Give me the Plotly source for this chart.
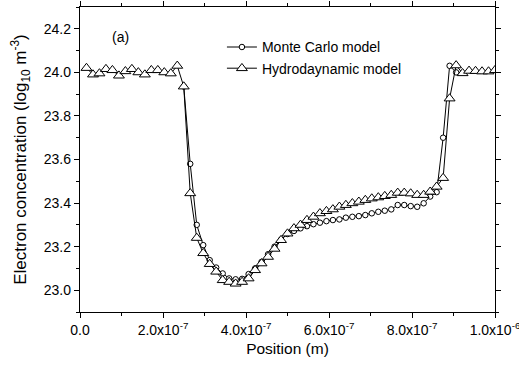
import plotly.graph_objects as go

# Positions along the device, in units of 1e-7 m
hd_pos_e7 = [0.156, 0.313, 0.469, 0.625, 0.781, 0.938, 1.094, 1.250, 1.406, 1.563,
             1.719, 1.875, 2.031, 2.188, 2.344, 2.500, 2.656, 2.813, 2.969, 3.125,
             3.281, 3.438, 3.594, 3.750, 3.906, 4.063, 4.219, 4.375, 4.531, 4.688,
             4.844, 5.000, 5.156, 5.313, 5.469, 5.625, 5.781, 5.938, 6.094, 6.250,
             6.406, 6.563, 6.719, 6.875, 7.031, 7.188, 7.344, 7.500, 7.656, 7.813,
             7.969, 8.125, 8.281, 8.438, 8.594, 8.750, 8.906, 9.063, 9.219, 9.375,
             9.531, 9.688, 9.844, 10.000]
# Hydrodynamic model, log10 of electron concentration (m^-3)
hd_logn = [24.02, 23.99, 23.995, 24.015, 24.01, 23.985, 24.005, 24.015, 24.0, 23.99,
           24.01, 24.01, 24.0, 23.995, 24.03, 23.935, 23.445, 23.24, 23.17, 23.12,
           23.085, 23.046, 23.038, 23.03, 23.038, 23.054, 23.092, 23.123, 23.153, 23.19,
           23.23, 23.26, 23.284, 23.30, 23.322, 23.337, 23.353, 23.363, 23.371, 23.383,
           23.391, 23.399, 23.406, 23.414, 23.421, 23.426, 23.432, 23.437, 23.447, 23.447,
           23.444, 23.437, 23.437, 23.452, 23.475, 23.515, 23.88, 24.032, 23.996, 24.007,
           24.006, 24.004, 24.004, 24.01]

mc_pos_e7 = [2.500, 2.656, 2.813, 2.969, 3.125, 3.281, 3.438, 3.594, 3.750, 3.906,
             4.063, 4.219, 4.375, 4.531, 4.688, 4.844, 5.000, 5.156, 5.313, 5.469,
             5.625, 5.781, 5.938, 6.094, 6.250, 6.406, 6.563, 6.719, 6.875, 7.031,
             7.188, 7.344, 7.500, 7.656, 7.813, 7.969, 8.125, 8.281, 8.438, 8.594,
             8.750, 8.906, 9.063]
# Monte Carlo model, log10 of electron concentration (m^-3)
mc_logn = [23.935, 23.58, 23.30, 23.207, 23.138, 23.104, 23.077, 23.054, 23.05, 23.052,
           23.074, 23.10, 23.13, 23.165, 23.20, 23.232, 23.258, 23.272, 23.284, 23.294,
           23.303, 23.31, 23.317, 23.322, 23.325, 23.333, 23.337, 23.34, 23.345, 23.353,
           23.36, 23.365, 23.371, 23.391, 23.391, 23.386, 23.383, 23.399, 23.43, 23.45,
           23.70, 24.03, 24.0]

x_tick_vals = [0, 2e-7, 4e-7, 6e-7, 8e-7, 1e-6]
x_tick_text = ["0.0", "2.0x10<sup>-7</sup>", "4.0x10<sup>-7</sup>",
               "6.0x10<sup>-7</sup>", "8.0x10<sup>-7</sup>", "1.0x10<sup>-6</sup>"]

E7 = 1e-7
FONT = "Arial, Liberation Sans, sans-serif"

fig = go.Figure()
fig.add_trace(go.Scatter(
    x=[p * E7 for p in mc_pos_e7], y=mc_logn, mode="lines+markers",
    name="Monte Carlo model",
    line=dict(color="black", width=1),
    marker=dict(symbol="circle", size=5.5, color="white",
                line=dict(color="black", width=1)),
))
fig.add_trace(go.Scatter(
    x=[p * E7 for p in hd_pos_e7], y=hd_logn, mode="lines+markers",
    name="Hydrodaynamic model",
    line=dict(color="black", width=1),
    marker=dict(symbol="triangle-up", size=9.5, color="white",
                line=dict(color="black", width=1)),
))

axis_common = dict(
    showline=True, linecolor="black", linewidth=1.3, mirror="ticks",
    ticks="outside", ticklen=5, tickwidth=1, tickcolor="black",
    showgrid=False, zeroline=False,
    tickfont=dict(family=FONT, size=14, color="black"),
)

fig.update_xaxes(
    range=[0, 1e-6], tickmode="array", tickvals=x_tick_vals, ticktext=x_tick_text,
    minor=dict(tickmode="linear", tick0=0, dtick=1e-7, ticks="outside",
               ticklen=3, tickcolor="black"),
    title=dict(text="Position (m)", font=dict(family=FONT, size=15.5, color="black"),
               standoff=6),
    ticklabeloverflow="allow",
    automargin=False, **axis_common,
)
fig.update_yaxes(
    range=[22.9, 24.3], tickmode="linear", tick0=23.0, dtick=0.2, tickformat=".1f",
    minor=dict(tickmode="linear", tick0=23.0, dtick=0.1, ticks="outside",
               ticklen=3, tickcolor="black"),
    title=dict(text="Electron concentration (log<sub>10</sub> m<sup>-3</sup>)",
               font=dict(family=FONT, size=17, color="black"), standoff=12),
    automargin=False, **axis_common,
)

fig.add_annotation(text="(a)", xref="paper", yref="paper", x=0.072, y=0.935,
                   showarrow=False, font=dict(family=FONT, size=14, color="black"))

fig.update_layout(
    width=519, height=366,
    margin=dict(l=80, r=24, t=7, b=54),
    paper_bgcolor="white", plot_bgcolor="white",
    font=dict(family=FONT, color="black"),
    legend=dict(x=0.342, y=0.92, xanchor="left", yanchor="top",
                bgcolor="rgba(0,0,0,0)", borderwidth=0,
                font=dict(family=FONT, size=14, color="black"),
                itemwidth=30, tracegroupgap=0),
    showlegend=True,
)

fig.write_html("out.html")
